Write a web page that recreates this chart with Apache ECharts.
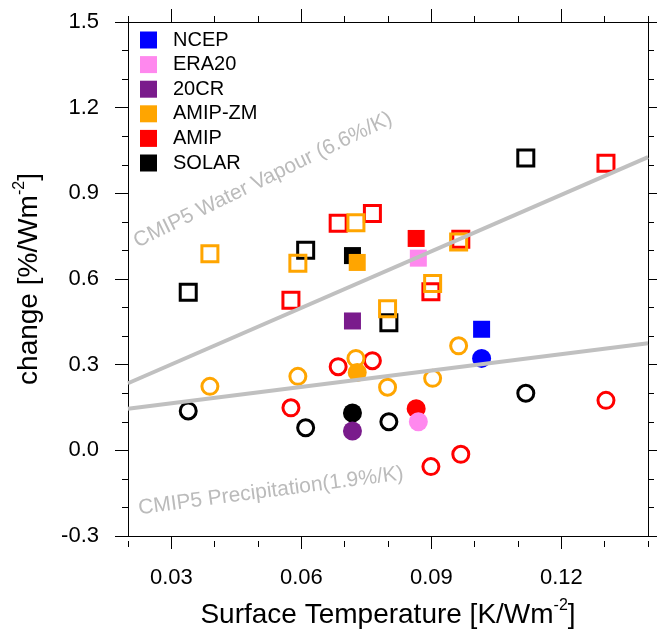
<!DOCTYPE html>
<html>
<head>
<meta charset="utf-8">
<script src="https://cdn.jsdelivr.net/npm/echarts@6/dist/echarts.min.js"></script>
<style>
  html, body { margin: 0; padding: 0; background: #fff; }
  #chart { width: 657px; height: 637px; }
</style>
</head>
<body>
<div id="chart"></div>
<script>
// observations / reanalyses (filled symbols): square = water vapour, circle = precipitation
var obsNames = ['NCEP', 'ERA20', '20CR', 'AMIP-ZM', 'AMIP', 'SOLAR'];
var obsTemp = [0.1016, 0.0870, 0.0718, 0.0729, 0.0865, 0.0718];
var obsVapour = [0.424, 0.673, 0.453, 0.658, 0.742, 0.682];
var obsPrecip = [0.322, 0.100, 0.068, 0.273, 0.146, 0.131];

// individual members (open symbols)
var amipZmTemp = [0.0389, 0.0592, 0.0726, 0.0799, 0.0963, 0.0903];
var amipZmVapour = [0.688, 0.655, 0.797, 0.496, 0.730, 0.584];
var amipZmPrecip = [0.224, 0.259, 0.322, 0.221, 0.366, 0.252];

var amipTemp = [0.0576, 0.0685, 0.0764, 0.0899, 0.0968, 0.1303];
var amipVapour = [0.526, 0.795, 0.829, 0.555, 0.739, 1.005];
var amipPrecip = [0.149, 0.293, 0.314, -0.057, -0.014, 0.175];

var solarTemp = [0.0339, 0.0610, 0.0802, 0.1118];
var solarVapour = [0.554, 0.701, 0.447, 1.024];
var solarPrecip = [0.138, 0.079, 0.100, 0.200];

// CMIP5 scaling lines
var lineTemp = [0.02, 0.14];
var vapourLine = [0.235, 1.027];
var precipLine = [0.146, 0.375];

var xTicks = [0.03, 0.06, 0.09, 0.12];

var colors = {
  'NCEP': '#0000ff', 'ERA20': '#ff88ee', '20CR': '#7a1b8c',
  'AMIP-ZM': '#ffa500', 'AMIP': '#ff0000', 'SOLAR': '#000000'
};
var font = 'Liberation Sans, Arial, Helvetica, sans-serif';

function zip(xs, ys) {
  return xs.map(function (x, i) { return [x, ys[i]]; });
}

var chart = echarts.init(document.getElementById('chart'));
var series = [];

series.push({
  type: 'line', name: 'wv', data: zip(lineTemp, vapourLine), symbol: 'none', silent: true,
  lineStyle: { color: '#c0c0c0', width: 4 }
});
series.push({
  type: 'line', name: 'pr', data: zip(lineTemp, precipLine), symbol: 'none', silent: true,
  lineStyle: { color: '#c0c0c0', width: 4 }
});

function openSeries(name, color, temp, vals, shape) {
  return {
    type: 'scatter', name: name + ' members', data: zip(temp, vals),
    symbol: shape, symbolSize: 16,
    itemStyle: { color: 'rgba(0,0,0,0)', borderColor: color, borderWidth: 3, opacity: 1 }
  };
}
[['SOLAR', solarTemp, solarVapour, solarPrecip],
 ['AMIP', amipTemp, amipVapour, amipPrecip],
 ['AMIP-ZM', amipZmTemp, amipZmVapour, amipZmPrecip]].forEach(function (m) {
  series.push(openSeries(m[0], colors[m[0]], m[1], m[2], 'rect'));
  series.push(openSeries(m[0], colors[m[0]], m[1], m[3], 'circle'));
});

// filled symbols, drawn in reverse legend order
for (var i = obsNames.length - 1; i >= 0; i--) {
  var n = obsNames[i];
  series.push({
    type: 'scatter', name: n, data: [[obsTemp[i], obsVapour[i]]],
    symbol: 'rect', symbolSize: 17, itemStyle: { color: colors[n], opacity: 1 }
  });
  series.push({
    type: 'scatter', name: n, data: [[obsTemp[i], obsPrecip[i]]],
    symbol: 'circle', symbolSize: 19, itemStyle: { color: colors[n], opacity: 1 }
  });
}

var tickLine = { color: '#000', width: 1 };
var baseX = { type: 'value', min: 0.02, max: 0.14, splitLine: { show: false } };

chart.setOption({
  animation: false,
  grid: [
    { left: 128, right: 9, top: 22, bottom: 96 },
    { left: 128, right: 9, top: 22, bottom: 96 }
  ],
  legend: {
    data: obsNames, orient: 'vertical', left: 140, top: 30, padding: 0,
    icon: 'rect', itemWidth: 17, itemHeight: 17, itemGap: 4.6,
    selectedMode: false,
    textStyle: { fontFamily: font, fontSize: 20, color: '#000', lineHeight: 17, padding: [0, 0, 0, 11] }
  },
  xAxis: [
    Object.assign({}, baseX, {
      gridIndex: 0, position: 'bottom',
      name: 'Surface Temperature [K/Wm{sup|-2}]', nameLocation: 'middle', nameGap: 62,
      nameTextStyle: {
        fontFamily: font, fontSize: 28, color: '#000', lineHeight: 34,
        rich: { sup: { fontFamily: font, fontSize: 16, color: '#000', verticalAlign: 'top' } }
      },
      axisLine: { show: true, onZero: false, lineStyle: tickLine },
      axisTick: { show: true, length: 13, customValues: xTicks, lineStyle: tickLine },
      axisLabel: { customValues: xTicks, margin: 31, fontFamily: font, fontSize: 22, color: '#000',
        formatter: function (v) { return v.toFixed(2); } }
    }),
    Object.assign({}, baseX, {
      gridIndex: 0, position: 'top',
      axisLine: { show: true, onZero: false, lineStyle: tickLine },
      axisTick: { show: true, length: 13, customValues: xTicks, lineStyle: tickLine },
      axisLabel: { show: false }
    }),
    Object.assign({}, baseX, {
      gridIndex: 1, position: 'bottom', interval: 0.01,
      axisLine: { show: false, onZero: false },
      axisTick: { show: true, length: 6, lineStyle: tickLine },
      axisLabel: { show: false }
    }),
    Object.assign({}, baseX, {
      gridIndex: 1, position: 'top', interval: 0.01,
      axisLine: { show: false, onZero: false },
      axisTick: { show: true, length: 6, lineStyle: tickLine },
      axisLabel: { show: false }
    })
  ],
  yAxis: [
    {
      type: 'value', gridIndex: 0, position: 'left', min: -0.3, max: 1.5, interval: 0.3,
      name: 'change [%/Wm{sup|-2}]', nameLocation: 'middle', nameGap: 82,
      nameTextStyle: {
        fontFamily: font, fontSize: 28, color: '#000', lineHeight: 34,
        rich: { sup: { fontFamily: font, fontSize: 16, color: '#000', verticalAlign: 'top' } }
      },
      splitLine: { show: false },
      axisLine: { show: true, onZero: false, lineStyle: tickLine },
      axisTick: { show: true, length: 13, lineStyle: tickLine },
      minorTick: { show: true, splitNumber: 3, length: 6, lineStyle: tickLine },
      axisLabel: { margin: 29, fontFamily: font, fontSize: 22, color: '#000',
        formatter: function (v) { return v.toFixed(1); } }
    },
    {
      type: 'value', gridIndex: 0, position: 'right', min: -0.3, max: 1.5, interval: 0.3,
      splitLine: { show: false },
      axisLine: { show: true, onZero: false, lineStyle: tickLine },
      axisTick: { show: true, length: 13, lineStyle: tickLine },
      minorTick: { show: true, splitNumber: 3, length: 6, lineStyle: tickLine },
      axisLabel: { show: false }
    },
    { type: 'value', gridIndex: 1, min: -0.3, max: 1.5, show: false, axisLine: { onZero: false } }
  ],
  graphic: [
    {
      type: 'text', x: 263, y: 180, rotation: 26 * Math.PI / 180, silent: true,
      style: { text: 'CMIP5 Water Vapour (6.6%/K)', fill: '#bbbbbb', fontSize: 21, fontFamily: font,
        align: 'center', verticalAlign: 'middle' }
    },
    {
      type: 'text', x: 271, y: 491, rotation: 7.5 * Math.PI / 180, silent: true,
      style: { text: 'CMIP5 Precipitation(1.9%/K)', fill: '#bbbbbb', fontSize: 21, fontFamily: font,
        align: 'center', verticalAlign: 'middle' }
    }
  ],
  series: series
});
</script>
</body>
</html>
